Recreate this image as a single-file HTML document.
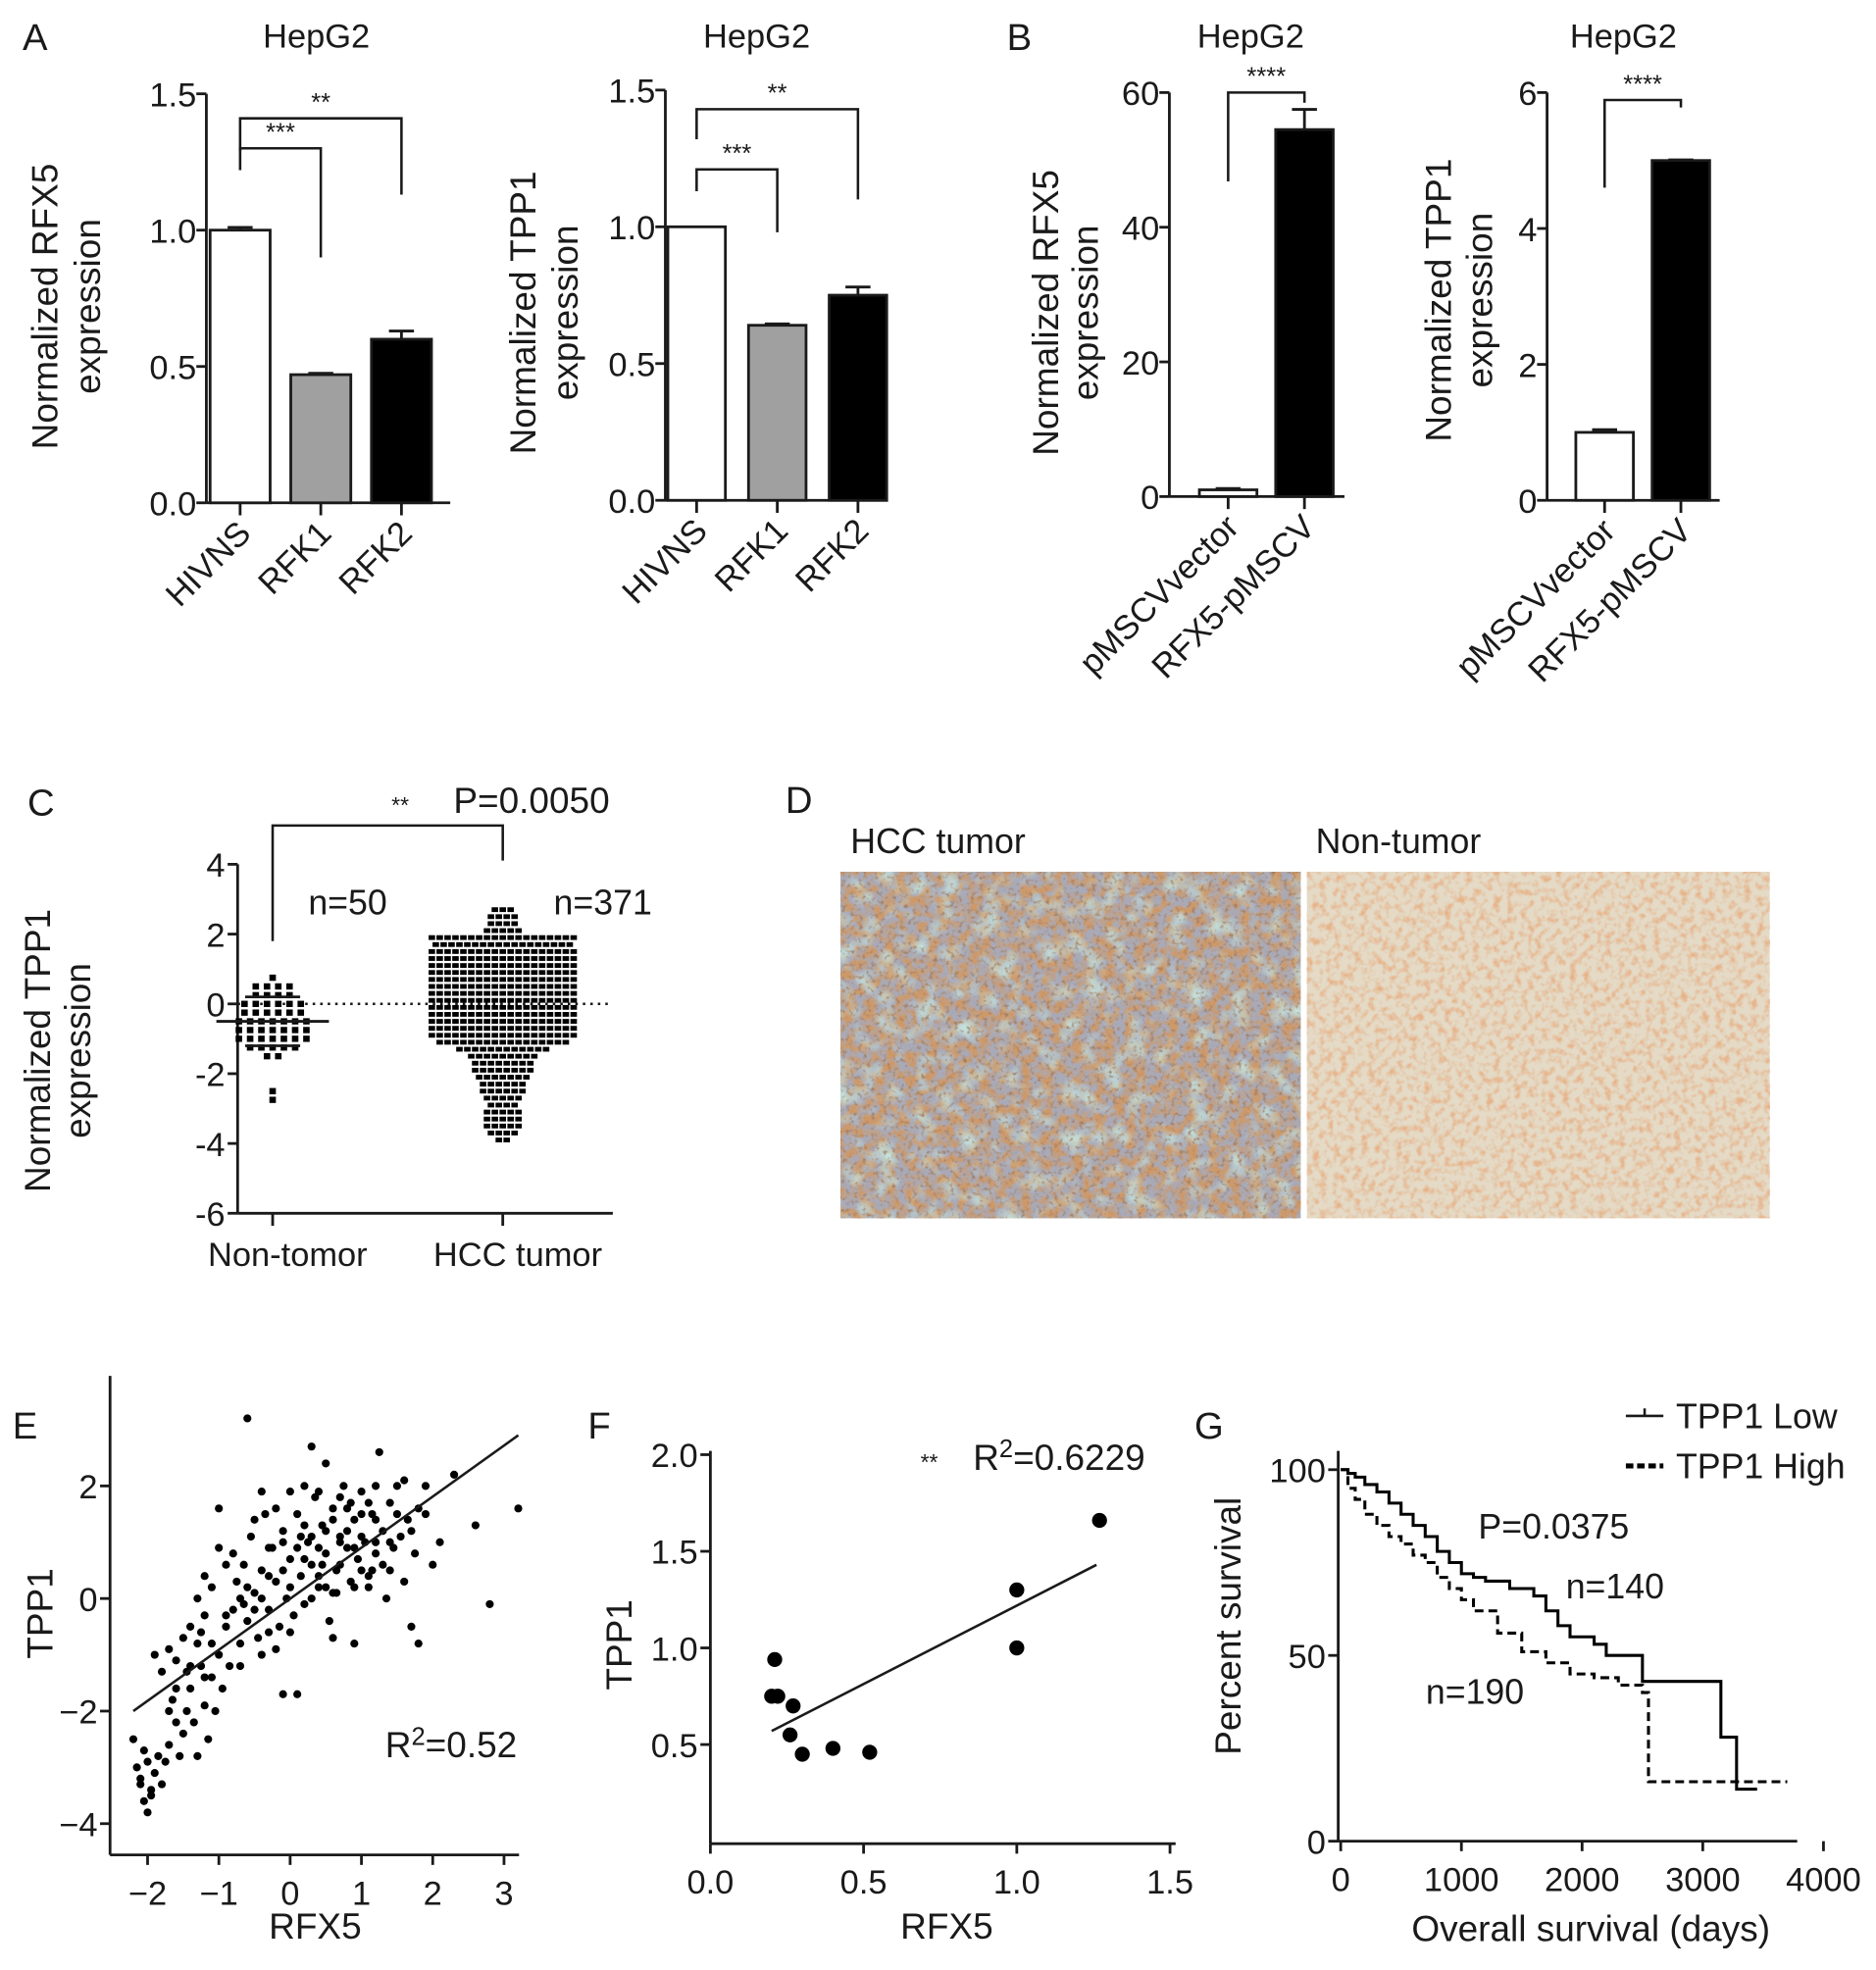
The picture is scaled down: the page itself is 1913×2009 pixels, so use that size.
<!DOCTYPE html>
<html><head><meta charset="utf-8"><style>
html,body{margin:0;padding:0;background:#fff;}
svg{display:block;font-family:"Liberation Sans",Arial,sans-serif;}
text{fill:#1a1a1a;}
</style></head><body>
<svg id="fig" xmlns="http://www.w3.org/2000/svg" width="1913" height="2009" viewBox="0 0 1500 1575" preserveAspectRatio="none">
<defs>
<filter id="texA" x="0" y="0" width="100%" height="100%"><feTurbulence type="fractalNoise" baseFrequency="0.12" numOctaves="3" seed="4"/><feColorMatrix type="matrix" values="0 0 0 0 0.62  0 0 0 0 0.32  0 0 0 0 0.14  3.2 0 0 0 -1.2"/></filter>
<filter id="texA2" x="0" y="0" width="100%" height="100%"><feTurbulence type="fractalNoise" baseFrequency="0.3" numOctaves="2" seed="7"/><feColorMatrix type="matrix" values="0 0 0 0 0.35  0 0 0 0 0.2  0 0 0 0 0.12  3 0 0 0 -1.6"/></filter>
<filter id="texB" x="0" y="0" width="100%" height="100%"><feTurbulence type="fractalNoise" baseFrequency="0.18" numOctaves="2" seed="9"/><feColorMatrix type="matrix" values="0 0 0 0 0.8  0 0 0 0 0.45  0 0 0 0 0.25  2.8 0 0 0 -1.25"/></filter>
<filter id="texBlue" x="0" y="0" width="100%" height="100%"><feTurbulence type="fractalNoise" baseFrequency="0.06" numOctaves="2" seed="21"/><feColorMatrix type="matrix" values="0 0 0 0 0.55  0 0 0 0 0.75  0 0 0 0 0.72  2.6 0 0 0 -1.25"/></filter>
</defs>
<g>
<rect x="672" y="697" width="368" height="277" fill="#a9aab8"/>
<rect x="672" y="697" width="368" height="277" filter="url(#texA)"/>
<rect x="672" y="697" width="368" height="277" filter="url(#texBlue)"/>
<rect x="672" y="697" width="368" height="277" filter="url(#texA2)"/>
<rect x="1045" y="697" width="370" height="277" fill="#e4dac6"/>
<rect x="1045" y="697" width="370" height="277" filter="url(#texB)"/>
</g>
</svg>
<script>
// ---- data ----
const catsA=["HIVNS","RFK1","RFK2"];
const valsA1=[1.0,0.47,0.60];
const errsA1=[0.01,0.005,0.03];
const valsA2=[1.0,0.64,0.75];
const errsA2=[0.0,0.005,0.03];
const ticksA=[0,0.5,1.0,1.5];
const tickLabA=["0.0","0.5","1.0","1.5"];
const catsB=["pMSCVvector","RFX5-pMSCV"];
const valsB1=[1.0,54.5];
const errsB1=[0.2,3.0];
const ticksB1=[0,20,40,60];
const valsB2=[1.0,5.0];
const errsB2=[0.04,0.01];
const ticksB2=[0,2,4,6];
const ticksC=[4,2,0,-2,-4,-6];
const ntBins=[-2.75,-2.5,-2.25,-2,-1.75,-1.5,-1.25,-1,-0.75,-0.5,-0.25,0,0.25,0.5,0.75];
const ntCounts=[1,1,0,0,0,2,5,7,7,7,6,6,4,4,1];
const hccBins=[-3.9,-3.7,-3.5,-3.3,-3.1,-2.9,-2.7,-2.5,-2.3,-2.1,-1.9,-1.7,-1.5,-1.3,-1.1,-0.9,-0.7,-0.5,-0.3,-0.1,0.1,0.3,0.5,0.7,0.9,1.1,1.3,1.5,1.7,1.9,2.1,2.3,2.5,2.7];
const hccCounts=[2,4,5,5,5,4,5,6,6,7,8,8,9,12,17,19,19,19,19,19,19,19,19,19,19,19,19,19,18,19,5,4,4,3];
const eX=[-2.2,-2.15,-2.1,-2.05,-2.0,-2.1,-1.95,-1.9,-1.85,-1.8,-2.0,-1.75,-1.7,-1.6,-1.65,-1.55,-1.5,-1.45,-1.4,-1.35,-1.3,-1.25,-1.2,-1.15,-1.1,-1.05,-1.0,-0.95,-0.9,-0.85,-1.9,-1.8,-1.7,-1.6,-1.5,-1.4,-1.3,-1.2,-1.1,-1.0,-0.8,-0.75,-0.7,-0.65,-0.6,-0.55,-0.5,-0.45,-0.4,-0.35,-0.3,-0.25,-0.2,-0.15,-0.1,-0.05,0,0.05,0.1,0.15,0.2,0.25,0.3,0.35,0.4,0.45,0.5,0.55,0.6,0.65,0.7,0.75,0.8,0.85,0.9,0.95,1.0,1.05,1.1,1.15,1.2,1.25,1.3,1.35,1.4,1.45,1.5,1.55,1.6,1.65,1.7,1.75,1.8,1.9,2.1,2.3,2.6,2.8,3.2,-0.6,0.3,1.6,1.8,0.9,0.6,-0.1,0.1,-0.7,-0.4,-0.9,-1.0,-0.5,-0.2,0.0,0.2,0.4,0.6,0.8,1.0,1.2,1.4,0.0,0.3,0.5,0.7,-0.3,-0.6,-0.8,-1.2,-1.3,-0.2,0.1,0.4,0.9,1.1,1.3,1.5,0.2,0.5,-0.4,0.7,1.0,-0.1,-0.5,0.8,1.2,0.6,0.3,-0.7,-0.9,-1.1,-1.4,-1.6,-1.2,0.9,1.1,0.4,0.0,-0.3,1.7,1.9,2.0,1.4,0.5,0.2,-0.1,-0.4,0.7,1.0,1.2,-2.05,-1.95,-1.7,-1.45,-1.25,-0.3,0.45,0.85,1.15,0.65,0.15,-0.65];
const eY=[-2.5,-3.0,-3.3,-3.6,-3.8,-3.2,-3.4,-3.1,-2.8,-3.3,-2.9,-2.9,-2.6,-2.2,-1.8,-2.8,-2.4,-2.0,-1.6,-2.2,-2.8,-1.2,-1.9,-2.5,-1.4,-2.0,-1.0,-1.6,-0.5,-1.2,-1.0,-1.3,-0.9,-1.1,-0.7,-0.5,-0.8,-0.3,0.2,1.6,-0.2,0.3,-0.8,0.6,-0.4,1.1,0.1,-0.7,0.5,1.5,-0.2,0.9,0.3,-0.5,1.2,0.0,0.7,-0.3,1.5,0.4,-0.1,1.0,0.6,1.8,0.2,1.3,0.8,-0.4,1.6,0.5,1.1,2.0,0.9,0.3,1.4,0.7,1.9,1.0,0.4,1.5,0.8,2.6,1.2,0.0,1.7,0.9,2.0,1.1,0.3,1.4,-0.5,0.8,1.6,2.0,1.0,2.2,1.3,-0.1,1.6,3.2,2.7,2.1,-0.8,-0.8,-0.7,-1.7,-1.7,-1.2,-1.0,0.6,0.9,1.4,1.6,1.9,1.3,1.9,0.1,1.6,1.1,1.4,0.5,-0.6,0.0,1.2,0.6,0.4,0.2,0.8,0.4,0.0,-0.9,0.9,0.9,0.2,1.7,0.6,1.5,2.0,2.4,1.9,1.8,0.5,0.5,-0.2,1.2,2.0,1.4,1.1,0.0,-0.3,-0.8,-1.2,-1.6,-1.4,0.9,0.2,0.4,0.2,-0.6,1.2,1.5,0.6,1.0,0.2,0.7,1.0,0.0,1.0,1.5,1.0,-2.7,-3.5,-2.0,-1.3,-0.6,0.9,0.6,1.7,0.5,0.1,1.1,-0.1];
const eFit=[[-2.2,-2.0],[3.2,2.9]];
const eXT=[-2,-1,0,1,2,3];
const eYT=[2,0,-2,-4];
const fX=[0.2,0.22,0.21,0.27,0.26,0.3,0.4,0.52,1.0,1.0,1.27];
const fY=[0.75,0.75,0.94,0.7,0.55,0.45,0.48,0.46,1.3,1.0,1.66];
const fFit=[[0.2,0.57],[1.26,1.43]];
const fXT=[0,0.5,1.0,1.5];
const fXL=["0.0","0.5","1.0","1.5"];
const fYT=[0.5,1.0,1.5,2.0];
const fYL=["0.5","1.0","1.5","2.0"];
const lowT=[0,60,120,200,300,400,500,600,700,800,900,1000,1100,1200,1400,1600,1700,1800,1900,2100,2200,2500,3100,3150,3280,3450];
const lowS=[100,99,98,96,94,91,88,85,82,78,75,72,71,70,68,66,62,58,55,53,50,43,43,28,14,14];
const highT=[0,60,120,200,300,400,500,600,700,800,900,1000,1100,1300,1500,1700,1900,2100,2300,2500,2550,3000,3700];
const highS=[100,95,92,88,85,82,80,77,75,71,68,65,62,56,51,48,45,44,42,40,16,16,16];
const gXT=[0,1000,2000,3000,4000];
const gYT=[0,50,100];

// ---- helpers ----
const NS='http://www.w3.org/2000/svg';
const svg=document.getElementById('fig');
function mk(tag,attrs,parent){const e=document.createElementNS(NS,tag);for(const k in attrs)e.setAttribute(k,attrs[k]);(parent||svg).appendChild(e);return e;}
function ln(x1,y1,x2,y2,parent,w){return mk('line',{x1,y1,x2,y2,stroke:'#1a1a1a','stroke-width':w||2.2},parent);}
function tx(s,x,y,size,parent,extra){const t=mk('text',Object.assign({x,y,'font-size':size},extra||{}),parent);t.textContent=s;return t;}

[["A",18,40],["B",805,40],["C",22,652],["D",628,650],["E",10,1150],["F",470,1150],["G",955,1150]].forEach(p=>{
  const t=tx(p[0],p[1],p[2],30);
  
  
});

function vtitle(lines,xs,cy,parent,size){
  lines.forEach((s,i)=>{
    const t=tx(s,xs[i],cy,size||29,parent,{'text-anchor':'middle',transform:`rotate(-90 ${xs[i]} ${cy})`});
    
    
  });
}

function barPanel(name,p,cats,vals,errs,fills,ticks,tickLabs,yMax,brackets,title,ylines){
  const g=mk('g',{});
  
  
  const ys=v=>p.y0-(v/yMax)*(p.y0-p.yTop);
  const xc=i=>p.x1+i*p.step;
  const tt=tx(title,p.tx,38,27,g,{'text-anchor':'middle'});
  
  
  vtitle(ylines,p.yt,p.ytc,g);
  const ya=ln(p.ax,p.yTop,p.ax,p.y0,g);
  
  
  const xa=ln(p.ax,p.y0,p.xEnd,p.y0,g);
  
  
  ticks.forEach((v,i)=>{
    ln(p.ax-8,ys(v),p.ax,ys(v),g);
    const t=tx(tickLabs[i],p.ax-8,ys(v)+10,27,g,{'text-anchor':'end'});
    
    
  });
  cats.forEach((c,i)=>{
    const cx=xc(i),top=ys(vals[i]);
    const r=mk('rect',{x:cx-p.bw/2,y:top,width:p.bw,height:p.y0-top,fill:fills[i],stroke:'#1a1a1a','stroke-width':2.2},g);
    
    
    if(errs[i]>0){
      const e1=ln(cx,top,cx,ys(vals[i]+errs[i]),g);
      
      
      ln(cx-10,ys(vals[i]+errs[i]),cx+10,ys(vals[i]+errs[i]),g);
    }
    ln(cx,p.y0,cx,p.y0+10,g);
    const t=tx(c,cx+10,p.y0+26,27,g,{'text-anchor':'end',transform:`rotate(-45 ${cx+10} ${p.y0+26})`});
    
    
  });
  brackets.forEach(b=>{
    const x1=xc(b[0]),x2=xc(b[1]),y=ys(b[2]);
    const pth=mk('path',{d:`M${x1} ${ys(b[3])}V${y}H${x2}V${ys(b[4])}`,fill:'none',stroke:'#1a1a1a','stroke-width':2},g);
    
    
    const t=tx(b[5],(x1+x2)/2,y-6,20,g,{'text-anchor':'middle'});
    
    
  });
}
barPanel('panel-a-rfx5',{ax:165,y0:402,yTop:75,xEnd:360,x1:192,step:64.5,bw:48,tx:253,yt:[46,80],ytc:245},catsA,valsA1,errsA1,['#fff','#a0a0a0','#000'],ticksA,tickLabA,1.5,
  [[0,1,1.30,1.22,0.90,'***'],[0,2,1.41,1.29,1.13,'**']],'HepG2',['Normalized RFX5','expression']);
barPanel('panel-a-tpp1',{ax:532,y0:400,yTop:72,xEnd:710,x1:557,step:64.5,bw:46,tx:605,yt:[428,462],ytc:250},catsA,valsA2,errsA2,['#fff','#a0a0a0','#000'],ticksA,tickLabA,1.5,
  [[0,1,1.21,1.13,0.98,'***'],[0,2,1.43,1.32,1.10,'**']],'HepG2',['Normalized TPP1','expression']);
barPanel('panel-b-rfx5',{ax:935,y0:397,yTop:74,xEnd:1075,x1:982,step:61,bw:46,tx:1000,yt:[846,878],ytc:250},catsB,valsB1,errsB1,['#fff','#000'],ticksB1,ticksB1.map(String),60,
  [[0,1,60,46.8,58.5,'****']],'HepG2',['Normalized RFX5','expression']);
barPanel('panel-b-tpp1',{ax:1237,y0:400,yTop:74,xEnd:1375,x1:1283,step:61,bw:46,tx:1298,yt:[1160,1193],ytc:240},catsB,valsB2,errsB2,['#fff','#000'],ticksB2,ticksB2.map(String),6,
  [[0,1,5.89,4.6,5.78,'****']],'HepG2',['Normalized TPP1','expression']);

// ---- panel C ----
(function(){
  const g=mk('g',{});
  
  
  const ax=190,y0=970,yTop=691;
  const ys=v=>y0-(v+6)/10*(y0-yTop);
  vtitle(['Normalized TPP1','expression'],[40,72],840,g);
  ln(ax,yTop,ax,y0,g); ln(ax,y0,490,y0,g);
  ticksC.forEach(v=>{ln(ax-8,ys(v),ax,ys(v),g);
    const t=tx(String(v),ax-10,ys(v)+10,27,g,{'text-anchor':'end'});
    
    });
  const z=mk('line',{x1:ax,y1:ys(0),x2:490,y2:ys(0),stroke:'#1a1a1a','stroke-width':2,'stroke-dasharray':'2 4'},g);
  
  
  const cxN=218,cxH=402;
  [[cxN,'Non-tomor'],[cxH,'HCC tumor']].forEach(c=>{ln(c[0],y0,c[0],y0+10,g);
    const t=tx(c[1],c[0]+12,y0+42,27,g,{'text-anchor':'middle'});
    
    });
  function swarm(bins,counts,cx,sp,name,h){
    bins.forEach((b,i)=>{for(let k=0;k<counts[i];k++){
      const x=cx+(k-(counts[i]-1)/2)*sp;
      const r=mk('rect',{x:x-2.6,y:ys(b)-h/2,width:5.2,height:h,fill:'#000'},g);
      
      
    }});
  }
  swarm(ntBins,ntCounts,cxN,9,'non-tumor-point',5);
  swarm(hccBins,hccCounts,cxH,6.3,'hcc-point',3.8);
  const m=ln(cxN-45,ys(-0.5),cxN+45,ys(-0.5),g);
  
  
  ln(cxN-22,ys(-1.2),cxN+22,ys(-1.2),g);
  ln(cxN-22,ys(0.2),cxN+22,ys(0.2),g);
  const br=mk('path',{d:`M${cxN} ${ys(1.8)}V660H${cxH}V688`,fill:'none',stroke:'#1a1a1a','stroke-width':2},g);
  
  
  [['**',320,650,18],['P=0.0050',425,650,29],['n=50',278,731,28],['n=371',482,731,28]].forEach(a=>{
    const t=tx(a[0],a[1],a[2],a[3],g,{'text-anchor':'middle'});
    
    });
})();

[['HCC tumor',680,682],['Non-tumor',1052,682]].forEach(a=>{const t=tx(a[0],a[1],a[2],28);
  
  });

function xyAxes(g,p,xt,xl,yt,yl){
  ln(p.ax,p.yTop,p.ax,p.y0,g); ln(p.ax,p.y0,p.xEnd,p.y0,g);
  xt.forEach((v,i)=>{const x=p.xs(v);ln(x,p.y0,x,p.y0+8,g);
    const t=tx(xl[i],x,p.y0+40,27,g,{'text-anchor':'middle'});
    
    });
  yt.forEach((v,i)=>{const y=p.ys(v);ln(p.ax-8,y,p.ax,y,g);
    const t=tx(yl[i],p.ax-10,y+10,27,g,{'text-anchor':'end'});
    
    });
}

// ---- panel E ----
(function(){
  const g=mk('g',{});
  
  
  const p={ax:88,y0:1483,yTop:1100,xEnd:415,xs:v=>232+v*57,ys:v=>1278-v*45};
  xyAxes(g,p,eXT,eXT.map(v=>v<0?'\u2212'+(-v):String(v)),eYT,eYT.map(v=>v<0?'\u2212'+(-v):String(v)));
  eX.forEach((x,i)=>{const c=mk('circle',{cx:p.xs(x),cy:p.ys(eY[i]),r:3.2,fill:'#000'},g);
    
    });
  const f=ln(p.xs(eFit[0][0]),p.ys(eFit[0][1]),p.xs(eFit[1][0]),p.ys(eFit[1][1]),g,2);
  
  
  const r=tx('',308,1405,29,g); r.innerHTML='R<tspan dy="-10" font-size="20">2</tspan><tspan dy="10">=0.52</tspan>';
  
  
  vtitle(['TPP1'],[42],1290,g);
  const xt=tx('RFX5',252,1550,29,g,{'text-anchor':'middle'});
  
  
})();

// ---- panel F ----
(function(){
  const g=mk('g',{});
  
  
  const p={ax:568,y0:1474,yTop:1160,xEnd:940,xs:v=>568+v*245,ys:v=>1472-v*154.5};
  xyAxes(g,p,fXT,fXL,fYT,fYL);
  fX.forEach((x,i)=>{const c=mk('circle',{cx:p.xs(x),cy:p.ys(fY[i]),r:6,fill:'#000'},g);
    
    });
  const f=ln(p.xs(fFit[0][0]),p.ys(fFit[0][1]),p.xs(fFit[1][0]),p.ys(fFit[1][1]),g,2);
  
  
  const s=tx('**',743,1175,18,g,{'text-anchor':'middle'});
  
  
  const r=tx('',778,1175,29,g); r.innerHTML='R<tspan dy="-10" font-size="20">2</tspan><tspan dy="10">=0.6229</tspan>';
  
  
  vtitle(['TPP1'],[505],1315,g);
  const xt=tx('RFX5',757,1550,29,g,{'text-anchor':'middle'});
  
  
})();

// ---- panel G ----
(function(){
  const g=mk('g',{});
  
  
  const p={ax:1070,y0:1472,yTop:1160,xEnd:1437,xs:v=>1072+v*0.0965,ys:v=>1472-v*2.97};
  xyAxes(g,p,gXT,gXT.map(String),gYT,gYT.map(String));
  function step(T,S){let d=`M${p.xs(T[0])} ${p.ys(S[0])}`;for(let i=1;i<T.length;i++)d+=`H${p.xs(T[i])}V${p.ys(S[i])}`;return d;}
  const lo=mk('path',{d:step(lowT,lowS),fill:'none',stroke:'#000','stroke-width':2.4},g);
  
  
  const hi=mk('path',{d:step(highT,highS),fill:'none',stroke:'#000','stroke-width':2.4,'stroke-dasharray':'7 4'},g);
  
  
  ln(1300,1132,1330,1132,g,2); ln(1315,1126,1315,1132,g,2);
  const l1=tx('TPP1 Low',1340,1142,28,g);
  
  
  mk('line',{x1:1300,y1:1172,x2:1330,y2:1172,stroke:'#000','stroke-width':4,'stroke-dasharray':'6 3'},g);
  const l2=tx('TPP1 High',1340,1182,28,g);
  
  
  [['P=0.0375',1182,1230],['n=140',1252,1278],['n=190',1140,1362]].forEach(a=>{const t=tx(a[0],a[1],a[2],28,g);
    
    });
  vtitle(['Percent survival'],[992],1300,g);
  const xt=tx('Overall survival (days)',1272,1552,29,g,{'text-anchor':'middle'});
  
  
})();
</script>
</body></html>
